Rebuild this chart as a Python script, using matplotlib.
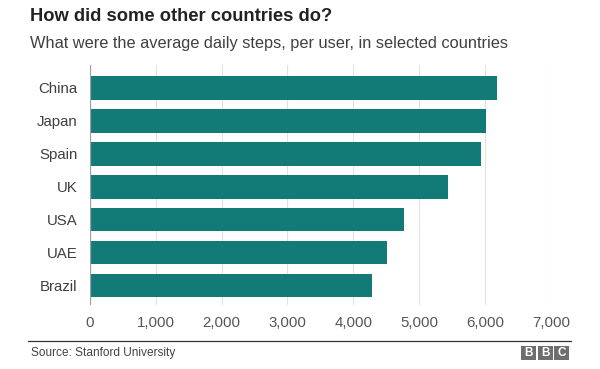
import matplotlib.pyplot as plt
from matplotlib.patches import Rectangle

countries = ['China', 'Japan', 'Spain', 'UK', 'USA', 'UAE', 'Brazil']
steps = [6189, 6010, 5936, 5444, 4774, 4516, 4289]
xticks = [0, 1000, 2000, 3000, 4000, 5000, 6000, 7000]

plt.rcParams['font.family'] = ['Liberation Sans', 'DejaVu Sans']

fig = plt.figure(figsize=(6, 3.69), dpi=100)
ax = fig.add_axes([0.15, 0.173, 0.768, 0.651])

ypos = list(range(len(countries)))
ax.barh(ypos, steps, height=0.72, color='#137b77', zorder=3)
ax.set_yticks(ypos)
ax.set_yticklabels(countries, fontsize=10.8, color='#404040')
ax.set_ylim(6.6, -0.7)

ax.set_xlim(0, 7000)
ax.set_xticks(xticks)
ax.set_xticklabels(['{:,}'.format(v) for v in xticks], fontsize=10.8, color='#555555')
ax.grid(axis='x', color='#e2e2e2', linewidth=0.8, zorder=0)
ax.axvline(0, color='#a0a0a0', linewidth=0.9, zorder=4)

for s in ax.spines.values():
    s.set_visible(False)
ax.tick_params(axis='x', length=0, pad=8)
ax.tick_params(axis='y', length=0, pad=9)

fig.text(0.05, 0.955, 'How did some other countries do?', fontsize=13.2,
         fontweight='bold', color='#222222', va='center')
fig.text(0.05, 0.883, 'What were the average daily steps, per user, in selected countries',
         fontsize=11.8, color='#404040', va='center')

# bottom rule and source
fig.add_artist(plt.Line2D([0.047, 0.952], [0.076, 0.076], color='#333333', linewidth=0.9))
fig.text(0.052, 0.043, 'Source: Stanford University', fontsize=8.6, color='#444444', va='center')

# BBC blocks
bw, bh, gap = 0.025, 0.039, 0.003
x0 = 0.868
for i, letter in enumerate('BBC'):
    xx = x0 + i * (bw + gap)
    fig.add_artist(Rectangle((xx, 0.024), bw, bh, transform=fig.transFigure,
                             facecolor='#6e6e6e', edgecolor='none'))
    fig.text(xx + bw / 2, 0.024 + bh / 2, letter, fontsize=8.5, fontweight='bold',
             color='white', ha='center', va='center')

fig.savefig('out.png', dpi=100)
